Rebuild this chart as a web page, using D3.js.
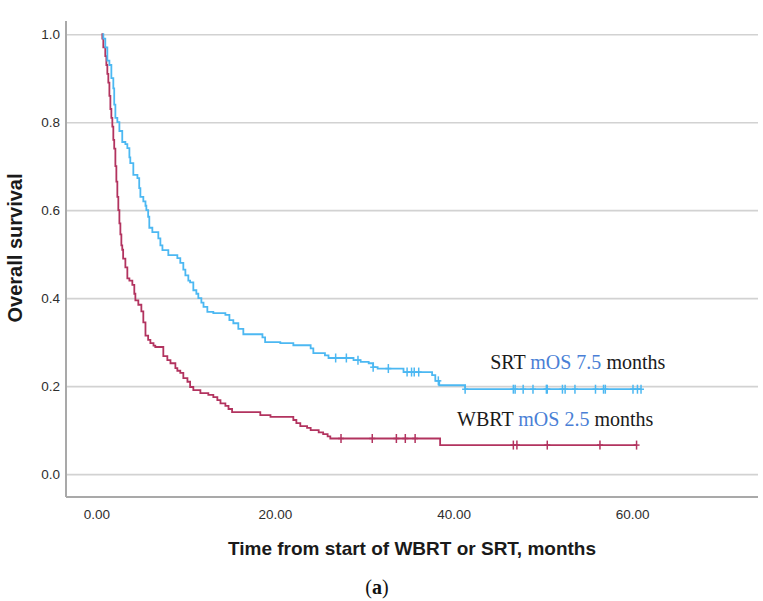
<!DOCTYPE html>
<html>
<head>
<meta charset="utf-8">
<script src="https://cdn.jsdelivr.net/npm/d3@7"></script>
<style>
  body { margin: 0; background: #fff; }
  svg { display: block; }
</style>
</head>
<body>
<div id="chart"></div>
<script>
// Kaplan-Meier steps: time of drop (months) and survival after it
const srtTimes = [0.78, 1.0, 1.23, 1.46, 1.68, 1.9, 2.0, 2.13, 2.35, 2.58, 2.9, 3.25, 3.47, 3.7, 3.8,
  4.14, 4.6, 4.8, 4.93, 5.26, 5.5, 5.6, 5.8, 5.93, 6.27, 6.94, 7.17, 7.4, 8.06, 9.07, 9.4, 9.74,
  9.97, 10.3, 10.5, 10.86, 11.2, 11.42, 11.76, 12.0, 12.43, 13.1, 14.45, 14.9, 15.34, 15.9, 16.46,
  18.6, 18.9, 20.6, 22.06, 24.0, 24.3, 25.6, 26.0, 28.8, 29.6, 30.5, 31.0, 31.5, 34.4, 37.6,
  37.96, 38.4, 41.3];
const srtSurv = [0.99, 0.97, 0.94, 0.93, 0.90, 0.877, 0.84, 0.81, 0.80, 0.78, 0.755, 0.75, 0.741, 0.72, 0.707,
  0.68, 0.673, 0.65, 0.63, 0.62, 0.61, 0.60, 0.585, 0.56, 0.55, 0.536, 0.52, 0.509, 0.498, 0.491, 0.48, 0.465,
  0.452, 0.44, 0.436, 0.418, 0.41, 0.40, 0.39, 0.38, 0.369, 0.366, 0.362, 0.35, 0.343, 0.33, 0.318,
  0.311, 0.30, 0.298, 0.293, 0.286, 0.275, 0.270, 0.264, 0.259, 0.255, 0.252, 0.243, 0.240, 0.232, 0.225,
  0.212, 0.202, 0.193];
const srtCensored = [26.8, 28.0, 29.3, 31.0, 32.7, 34.8, 35.3, 35.6, 36.1, 38.3, 41.3, 46.7, 46.9, 47.8,
  48.9, 50.4, 50.5, 52.2, 52.5, 53.6, 55.9, 56.8, 57.0, 60.1, 60.6, 61.0];

const wbrtTimes = [0.67, 0.78, 1.0, 1.12, 1.23, 1.34, 1.46, 1.57, 1.68, 1.79, 1.9, 2.0, 2.13, 2.24, 2.35,
  2.46, 2.58, 2.69, 2.8, 2.9, 3.0, 3.25, 3.47, 3.7, 4.03, 4.25, 4.37, 4.7, 5.04, 5.26, 5.5, 5.8,
  6.05, 6.4, 6.6, 7.5, 7.95, 8.3, 8.85, 9.07, 9.4, 9.74, 10.2, 10.5, 10.86, 11.65, 12.54, 13.1,
  13.55, 13.9, 14.45, 14.8, 15.2, 18.36, 19.5, 22.06, 22.4, 22.84, 23.6, 24.0, 24.9, 25.4, 25.9,
  26.2, 38.5];
const wbrtSurv = [0.99, 0.97, 0.95, 0.93, 0.91, 0.89, 0.86, 0.83, 0.81, 0.79, 0.76, 0.74, 0.70, 0.665, 0.63,
  0.60, 0.57, 0.545, 0.52, 0.51, 0.49, 0.47, 0.445, 0.44, 0.43, 0.41, 0.395, 0.385, 0.37, 0.345, 0.315, 0.305,
  0.298, 0.292, 0.289, 0.268, 0.259, 0.252, 0.241, 0.235, 0.23, 0.218, 0.21, 0.198, 0.191, 0.184, 0.18, 0.175,
  0.168, 0.161, 0.155, 0.148, 0.141, 0.134, 0.13, 0.123, 0.116, 0.109, 0.105, 0.1, 0.095, 0.091, 0.086,
  0.081, 0.066];
const wbrtCensored = [27.4, 30.9, 33.6, 34.6, 35.7, 46.7, 47.1, 50.5, 56.4, 60.5];

const xTicks = [0, 20, 40, 60];
const yTicks = [0, 0.2, 0.4, 0.6, 0.8, 1.0];

const width = 763;
const height = 601;
const plotL = 66, plotR = 758, plotT = 21, plotB = 497;

const svg = d3.select('#chart').append('svg')
  .attr('width', width)
  .attr('height', height)
  .attr('viewBox', `0 0 ${width} ${height}`);

const x = d3.scaleLinear().domain([-3.4, 74.1]).range([plotL, plotR]);
const y = d3.scaleLinear().domain([-0.052, 1.03]).range([plotB, plotT]);

// gridlines
svg.append('g')
  .attr('transform', `translate(${plotL},0)`)
  .call(d3.axisLeft(y).tickValues(yTicks).tickSize(-(plotR - plotL)).tickFormat(''))
  .call(g => g.select('.domain').remove())
  .call(g => g.selectAll('line').attr('stroke', '#d2d2d2').attr('stroke-width', 1.6));

// y axis labels
svg.append('g')
  .attr('transform', `translate(${plotL},0)`)
  .call(d3.axisLeft(y).tickValues(yTicks).tickSize(0).tickPadding(6).tickFormat(d3.format('.1f')))
  .call(g => g.select('.domain').remove())
  .call(g => g.selectAll('text')
    .attr('fill', '#2e2e2e')
    .style('font-family', '"Liberation Sans", Arial, sans-serif')
    .style('font-size', '13.5px'));

// x axis labels
svg.append('g')
  .attr('transform', `translate(0,${plotB})`)
  .call(d3.axisBottom(x).tickValues(xTicks).tickSize(0).tickPadding(12).tickFormat(d3.format('.2f')))
  .call(g => g.select('.domain').remove())
  .call(g => g.selectAll('text')
    .attr('fill', '#2e2e2e')
    .style('font-family', '"Liberation Sans", Arial, sans-serif')
    .style('font-size', '13.5px'));

// axis frame lines
svg.append('line')
  .attr('x1', plotL).attr('x2', plotL).attr('y1', plotT).attr('y2', plotB)
  .attr('stroke', '#a9a9a9').attr('stroke-width', 2);
svg.append('line')
  .attr('x1', plotL).attr('x2', plotR).attr('y1', plotB).attr('y2', plotB)
  .attr('stroke', '#a9a9a9').attr('stroke-width', 2);

const line = d3.line()
  .x(d => x(d[0]))
  .y(d => y(d[1]))
  .curve(d3.curveStepAfter);

function survivalAt(times, surv, t) {
  const i = d3.bisectRight(times, t);
  return i === 0 ? 1 : surv[i - 1];
}

function drawCurve(times, surv, censored, color) {
  const end = d3.max(censored);
  // curve is drawn from the first event on, as in the reference
  const pts = [[times[0] - 0.1, 1]].concat(times.map((t, i) => [t, surv[i]]));
  pts.push([end, surv[surv.length - 1]]);

  svg.append('path')
    .attr('d', line(pts))
    .attr('fill', 'none')
    .attr('stroke', color)
    .attr('stroke-width', 1.8);

  const marks = svg.append('g')
    .attr('stroke', color)
    .attr('stroke-width', 1.5);
  censored.forEach(t => {
    const cx = x(t);
    const cy = y(survivalAt(times, surv, t));
    marks.append('line')
      .attr('x1', cx).attr('x2', cx)
      .attr('y1', cy - 4.5).attr('y2', cy + 4.5);
    marks.append('line')
      .attr('x1', cx - 3).attr('x2', cx + 3)
      .attr('y1', cy).attr('y2', cy);
  });
}

drawCurve(wbrtTimes, wbrtSurv, wbrtCensored, '#b2335f');
drawCurve(srtTimes, srtSurv, srtCensored, '#4cb8f2');

// annotations
const labels = [
  { name: 'SRT', mos: 'mOS 7.5', t: 44.1, s: 0.239 },
  { name: 'WBRT', mos: 'mOS 2.5', t: 40.4, s: 0.109 },
];
labels.forEach(d => {
  const txt = svg.append('text')
    .attr('x', x(d.t))
    .attr('y', y(d.s))
    .style('font-family', '"Liberation Serif", "Times New Roman", serif')
    .style('font-size', '20px')
    .attr('fill', '#1a1a1a');
  txt.append('tspan').text(d.name + ' ');
  txt.append('tspan').attr('fill', '#4a7fd6').text(d.mos);
  txt.append('tspan').text(' months');
});

// axis titles
svg.append('text')
  .attr('x', (plotL + plotR) / 2)
  .attr('y', 555)
  .attr('text-anchor', 'middle')
  .style('font-family', '"Liberation Sans", Arial, sans-serif')
  .style('font-size', '19px')
  .style('font-weight', 'bold')
  .attr('fill', '#1a1a1a')
  .text('Time from start of WBRT or SRT, months');

svg.append('text')
  .attr('transform', 'translate(22,248) rotate(-90)')
  .attr('text-anchor', 'middle')
  .style('font-family', '"Liberation Sans", Arial, sans-serif')
  .style('font-size', '20px')
  .style('font-weight', 'bold')
  .attr('fill', '#1a1a1a')
  .text('Overall survival');

// panel label
const panel = svg.append('text')
  .attr('x', 377)
  .attr('y', 594)
  .attr('text-anchor', 'middle')
  .style('font-family', '"Liberation Serif", "Times New Roman", serif')
  .style('font-size', '20px')
  .attr('fill', '#111');
panel.append('tspan').text('(');
panel.append('tspan').style('font-weight', 'bold').text('a');
panel.append('tspan').text(')');
</script>
</body>
</html>
